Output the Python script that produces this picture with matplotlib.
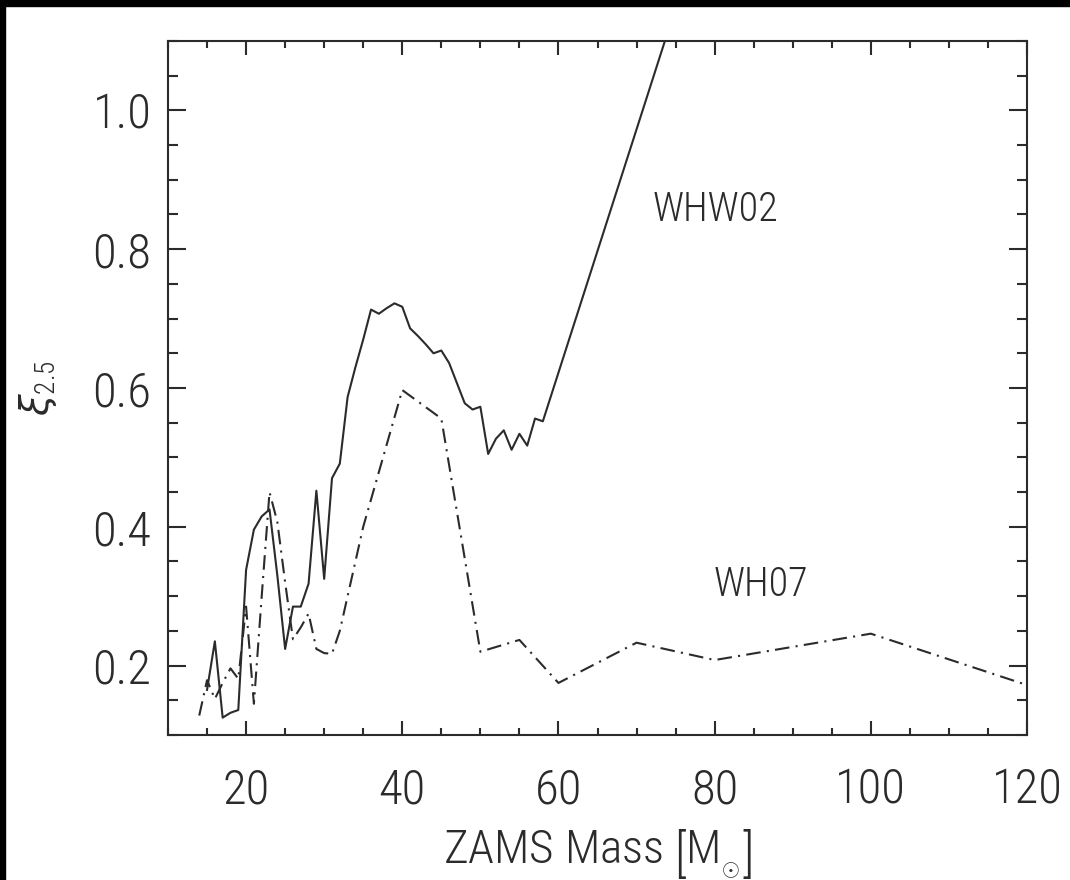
import matplotlib
matplotlib.use('Agg')
import matplotlib.pyplot as plt
from matplotlib import font_manager
from matplotlib.patches import Rectangle
from matplotlib.ticker import MultipleLocator, FormatStrFormatter

# WHW02 (solid line)
mass_whw02 = [15, 16, 17, 18, 19, 20, 21, 22, 23, 24, 25, 26, 27, 28, 29, 30,
              31, 32, 33, 34, 35, 36, 37, 38, 39, 40, 41, 42, 43, 44, 45, 46,
              47, 48, 49, 50, 51, 52, 53, 54, 55, 56, 57, 58, 75]
xi_whw02 = [0.165, 0.235, 0.125, 0.132, 0.136, 0.338, 0.396, 0.415, 0.425, 0.33,
            0.224, 0.285, 0.285, 0.318, 0.452, 0.325, 0.47, 0.491, 0.587, 0.63,
            0.67, 0.713, 0.707, 0.715, 0.722, 0.717, 0.686, 0.675, 0.663, 0.650,
            0.654, 0.636, 0.607, 0.578, 0.569, 0.573, 0.505, 0.527, 0.539, 0.511,
            0.534, 0.517, 0.556, 0.552, 1.148]

# WH07 (dash-dot line)
mass_wh07 = [14, 15, 16, 17, 18, 19, 20, 21, 22, 23, 24, 25, 26, 27, 28, 29, 30,
             31, 32, 33, 35, 40, 45, 50, 55, 60, 70, 80, 100, 120]
xi_wh07 = [0.128, 0.179, 0.152, 0.175, 0.196, 0.181, 0.285, 0.145, 0.30, 0.45,
           0.407, 0.32, 0.238, 0.255, 0.275, 0.224, 0.218, 0.217, 0.25, 0.30,
           0.40, 0.597, 0.556, 0.220, 0.237, 0.175, 0.233, 0.208, 0.246, 0.172]

# narrow-ish light sans if we have one
installed = {f.name for f in font_manager.fontManager.ttflist}
family = 'DejaVu Sans'
for name in ['Liberation Sans Narrow', 'Roboto Condensed', 'Roboto']:
    if name in installed:
        family = name
        break
plt.rcParams['font.family'] = [family, 'DejaVu Sans']
plt.rcParams['font.weight'] = 'light'
plt.rcParams['mathtext.fontset'] = 'custom'
plt.rcParams['mathtext.rm'] = family + ':light'
plt.rcParams['mathtext.it'] = 'DejaVu Sans:italic'

ink = '#2b2b2b'

fig = plt.figure(figsize=(10.7, 8.8), dpi=100)
ax = fig.add_axes([168/1070, 145/880, 859/1070, 694/880])

ax.plot(mass_whw02, xi_whw02, color=ink, lw=1.5)
ax.plot(mass_wh07, xi_wh07, color=ink, lw=1.5, linestyle=(0, (7, 3, 1, 3)))

ax.set_xlim(10, 120)
ax.set_ylim(0.1, 1.1)
ax.xaxis.set_minor_locator(MultipleLocator(5))
ax.yaxis.set_major_locator(MultipleLocator(0.2))
ax.yaxis.set_minor_locator(MultipleLocator(0.05))
ax.yaxis.set_major_formatter(FormatStrFormatter('%.1f'))
ax.set_xticks([20, 40, 60, 80, 100, 120])

for s in ax.spines.values():
    s.set_color(ink)
    s.set_linewidth(1.5)
ax.tick_params(which='both', direction='in', top=True, right=True,
               color=ink, width=1.5, labelsize=35, labelcolor=ink)
ax.tick_params(axis='x', which='major', length=10, pad=23)
ax.tick_params(axis='x', which='minor', length=5)
ax.tick_params(axis='y', which='major', length=13, pad=12)
ax.tick_params(axis='y', which='minor', length=7)

ax.text(72.1, 0.857, 'WHW02', fontsize=29, color=ink, va='center', ha='left')
ax.text(79.9, 0.316, 'WH07', fontsize=29, color=ink, va='center', ha='left')

ax.set_xlabel(r'ZAMS Mass $\left[\mathrm{M}_{_{\odot}}\right]$', fontsize=34,
              color=ink, fontweight='light')
ax.xaxis.set_label_coords(0.5, -0.132)
ax.set_ylabel(r'$\xi_{2.5}$', fontsize=28, color=ink, fontweight='light')
ax.yaxis.set_label_coords(-0.151, 0.5)
ax.yaxis.label.set_va('center')

# black frame strips at top and left of the original image
fig.patches.append(Rectangle((0, 1 - 6/880), 1, 6/880, transform=fig.transFigure,
                             color='black', zorder=10))
fig.patches.append(Rectangle((0, 0), 5/1070, 1, transform=fig.transFigure,
                             color='black', zorder=10))

fig.savefig('out.png', dpi=100, facecolor='white')
